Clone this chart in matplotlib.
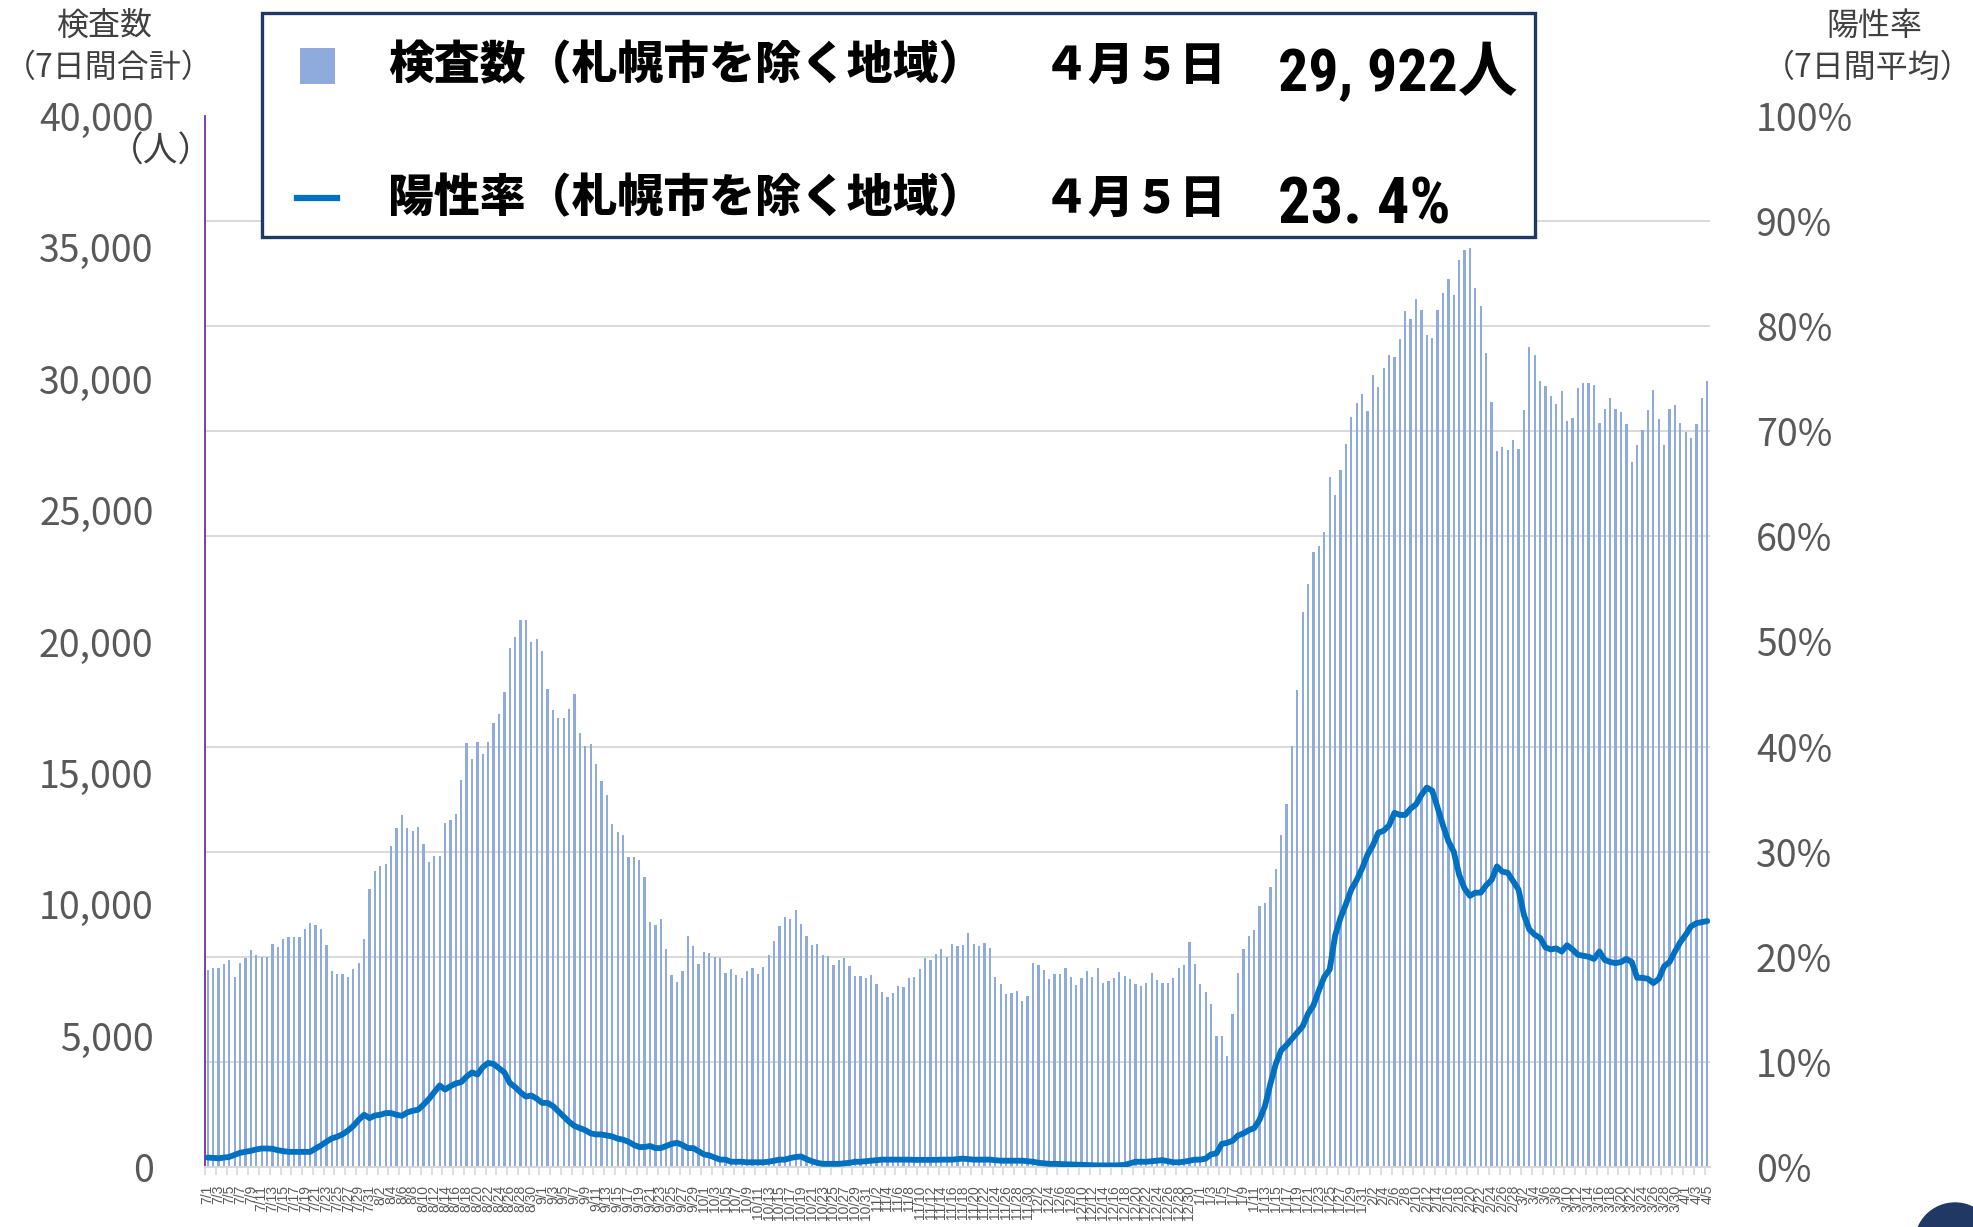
import numpy as np
import pandas as pd
import matplotlib
matplotlib.use('Agg')
from matplotlib import patches, font_manager, pyplot as plt
from matplotlib.ticker import MultipleLocator, FuncFormatter, PercentFormatter

plt.rcParams['font.family'] = ['Noto Sans CJK JP', 'DejaVu Sans']

# 日付 (7/1 - 4/5)
dates = pd.date_range('2021-07-01', '2022-04-05', freq='D')
date_labels = [f'{d.month}/{d.day}' for d in dates]

# 検査数（7日間合計）
tests_jul = [7500, 7590, 7560, 7720, 7870, 7240, 7760, 7940, 8270, 8050,
             8000, 8010, 8500, 8370, 8670, 8770, 8770, 8740, 9060, 9280,
             9200, 9050, 8440, 7470, 7330, 7330, 7230, 7540, 7760, 8670, 10580]
tests_aug = [11280, 11450, 11530, 12200, 12890, 13390, 12900, 12770, 12940, 12280,
             11620, 11820, 11830, 13080, 13210, 13420, 14720, 16120, 15520, 16190,
             15710, 16190, 16890, 17250, 18070, 19740, 20170, 20800, 20800, 20000, 20090]
tests_sep = [19620, 18210, 17410, 17080, 17090, 17440, 18020, 16510, 16030, 16100,
             15350, 14690, 14140, 13050, 12760, 12650, 11780, 11810, 11690, 11050,
             9310, 9210, 9450, 8280, 7300, 7050, 7450, 8790, 8420, 7740]
tests_oct = [8170, 8150, 8000, 7960, 7400, 7530, 7290, 7200, 7450, 7570,
             7340, 7600, 8070, 8590, 9160, 9530, 9440, 9790, 9250, 8780,
             8460, 8500, 8050, 8040, 7680, 7890, 7940, 7660, 7280, 7280, 7200]
tests_nov = [7290, 6950, 6660, 6480, 6620, 6870, 6850, 7190, 7240, 7530,
             7950, 7860, 8090, 8280, 8000, 8470, 8410, 8450, 8890, 8500,
             8420, 8510, 8340, 7240, 6970, 6570, 6640, 6710, 6310, 6500]
tests_dec = [7750, 7680, 7490, 7140, 7330, 7330, 7570, 7230, 6920, 7190,
             7460, 7230, 7580, 7020, 7070, 7190, 7440, 7280, 7150, 6950,
             6880, 7020, 7380, 7110, 6990, 6990, 7180, 7580, 7670, 8550, 7710]
tests_jan = [6950, 6670, 6220, 4990, 4970, 4240, 5830, 7400, 8300, 8800,
             9030, 9940, 10050, 10660, 11360, 12640, 13800, 16010, 18170, 21130,
             22180, 23390, 23640, 24150, 26250, 25570, 26530, 27530, 28530, 29060, 29410]
tests_feb = [28790, 30160, 29690, 30410, 30900, 30810, 31510, 32580, 32280, 33040,
             32620, 31650, 31550, 32600, 33250, 33790, 33180, 34510, 34910, 34980,
             33460, 32760, 30970, 29110, 27250, 27390, 27300, 27670]
tests_mar = [27340, 28810, 31200, 30900, 29930, 29720, 29340, 29020, 29530, 28390,
             28510, 29650, 29830, 29830, 29760, 28300, 28860, 29250, 28860, 28740,
             28270, 26830, 27480, 28040, 28810, 29580, 28480, 27460, 28860, 28990, 28300]
tests_apr = [27970, 27760, 28270, 29250, 29922]

# 陽性率（7日間平均, %）
rate_jul = [0.90, 0.87, 0.83, 0.90, 0.96, 1.15, 1.35, 1.44, 1.54, 1.67,
            1.76, 1.76, 1.73, 1.60, 1.51, 1.44, 1.44, 1.44, 1.44, 1.44,
            1.76, 2.05, 2.40, 2.72, 2.88, 3.11, 3.46, 3.91, 4.49, 4.97, 4.65]
rate_aug = [4.90, 4.97, 5.13, 5.13, 4.97, 4.87, 5.19, 5.35, 5.45, 5.93,
            6.47, 7.12, 7.76, 7.37, 7.69, 7.95, 8.08, 8.6, 9.0, 8.8,
            9.5, 9.9, 9.8, 9.4, 9.0, 8.0, 7.6, 7.1, 6.7, 6.8, 6.5]
rate_sep = [6.1, 6.1, 5.8, 5.3, 4.8, 4.3, 3.9, 3.7, 3.5, 3.2,
            3.1, 3.1, 3.0, 2.9, 2.7, 2.6, 2.4, 2.1, 1.9, 1.9,
            2.0, 1.8, 1.8, 2.0, 2.2, 2.3, 2.1, 1.8, 1.8, 1.5]
rate_oct = [1.2, 1.1, 0.9, 0.7, 0.7, 0.5, 0.5, 0.5, 0.45, 0.45,
            0.45, 0.45, 0.5, 0.6, 0.7, 0.7, 0.85, 0.95, 1.0, 0.75,
            0.55, 0.4, 0.3, 0.3, 0.3, 0.3, 0.35, 0.4, 0.5, 0.5, 0.55]
rate_nov = [0.6, 0.65, 0.7, 0.7, 0.7, 0.7, 0.7, 0.7, 0.68, 0.68,
            0.68, 0.68, 0.68, 0.7, 0.7, 0.7, 0.75, 0.8, 0.75, 0.7,
            0.7, 0.7, 0.7, 0.65, 0.6, 0.6, 0.6, 0.6, 0.6, 0.55]
rate_dec = [0.5, 0.4, 0.35, 0.3, 0.3, 0.28, 0.25, 0.25, 0.22, 0.2,
            0.18, 0.15, 0.15, 0.15, 0.15, 0.15, 0.18, 0.2, 0.35, 0.5,
            0.5, 0.5, 0.55, 0.6, 0.65, 0.55, 0.45, 0.45, 0.5, 0.6, 0.7]
rate_jan = [0.7, 0.8, 1.2, 1.3, 2.2, 2.3, 2.5, 3.0, 3.2, 3.5,
            3.7, 4.5, 5.8, 7.9, 9.8, 11.1, 11.6, 12.2, 12.8, 13.4,
            14.6, 15.4, 16.8, 18.1, 18.8, 22.0, 23.7, 25.0, 26.4, 27.3, 28.4]
rate_feb = [29.7, 30.6, 31.8, 32.0, 32.5, 33.7, 33.5, 33.5, 34.1, 34.5,
            35.4, 36.1, 35.8, 34.2, 32.5, 31.0, 30.0, 27.8, 26.5, 25.8,
            26.1, 26.1, 26.8, 27.3, 28.6, 28.1, 28.0, 27.2]
rate_mar = [26.4, 24.0, 22.6, 22.1, 21.8, 20.9, 20.7, 20.8, 20.5, 21.1,
            20.7, 20.2, 20.1, 20.0, 19.8, 20.5, 19.7, 19.5, 19.4, 19.5,
            19.8, 19.5, 18.0, 18.0, 17.9, 17.5, 17.9, 19.1, 19.5, 20.5, 21.4]
rate_apr = [22.1, 22.9, 23.2, 23.3, 23.4]

tests = (tests_jul + tests_aug + tests_sep + tests_oct + tests_nov + tests_dec
         + tests_jan + tests_feb + tests_mar + tests_apr)
rate = (rate_jul + rate_aug + rate_sep + rate_oct + rate_nov + rate_dec
        + rate_jan + rate_feb + rate_mar + rate_apr)

W, H = 1974, 1227
BAR_COLOR = '#8FAADC'
LINE_COLOR = '#0070C0'
GRID_COLOR = '#D9D9D9'
TICK_COLOR = '#595959'
NAVY = '#1F3864'


def fx(px):
    return px / W


def fy(py):
    return 1 - py / H


def find_narrow_font():
    """Returns (family, stretch) of a condensed font if one is installed"""
    for f in font_manager.fontManager.ttflist:
        if f.name in ('Liberation Sans Narrow', 'Roboto Condensed', 'Open Sans Condensed'):
            return f.name, 'normal'
    for f in font_manager.fontManager.ttflist:
        if f.name in ('DejaVu Sans', 'Noto Sans') and f.stretch == 'condensed':
            return f.name, 'condensed'
    return None, 'normal'


def fit_text(fig, text, width):
    """Shrinks or grows font so the text is given pixels wide"""
    fig.canvas.draw()
    bb = text.get_window_extent()
    text.set_fontsize(text.get_fontsize() * width / bb.width)


narrow_family, narrow_stretch = find_narrow_font()

fig = plt.figure(figsize=(W / 100, H / 100), dpi=100)
ax = fig.add_axes([fx(205), fy(1167), fx(1710) - fx(205), fy(116) - fy(1167)])
ax2 = ax.twinx()

x = np.arange(len(tests))
ax.bar(x, tests, width=0.42, color=BAR_COLOR, zorder=2)
ax2.plot(x, np.array(rate) / 100, color=LINE_COLOR, lw=4.2,
         solid_joinstyle='round', solid_capstyle='round')

ax.set_xlim(-0.5, len(tests) - 0.5)
ax.set_ylim(0, 40000)
ax2.set_ylim(0, 1)

# 左軸
ax.yaxis.set_major_locator(MultipleLocator(5000))
ax.yaxis.set_major_formatter(FuncFormatter(lambda v, p: f'{v:,.0f}'))
ax.yaxis.set_minor_locator(MultipleLocator(4000))
ax.grid(which='minor', axis='y', color=GRID_COLOR, lw=1.4, zorder=0)
ax.set_axisbelow(True)
ax.tick_params(axis='y', which='both', length=0, labelsize=27,
               labelcolor=TICK_COLOR, pad=37)

# 右軸
ax2.yaxis.set_major_locator(MultipleLocator(0.1))
ax2.yaxis.set_major_formatter(PercentFormatter(1.0, decimals=0))
ax2.tick_params(axis='y', length=0, labelsize=27, labelcolor=TICK_COLOR, pad=33)

# 横軸
ax.set_xticks(x[::2])
ax.set_xticklabels(date_labels[::2], rotation=90, family=['Liberation Sans', 'DejaVu Sans'],
                   fontsize=10, color=TICK_COLOR)
ax.set_xticks(np.arange(-0.5, len(tests), 2), minor=True)
ax.tick_params(axis='x', which='major', length=0, pad=13)
ax.tick_params(axis='x', which='minor', length=6, width=1.2, color=GRID_COLOR)

for a in (ax, ax2):
    a.spines['top'].set_visible(False)
    a.spines['right'].set_visible(False)
ax2.spines['left'].set_visible(False)
ax2.spines['bottom'].set_visible(False)
ax.spines['left'].set_color('#7030A0')
ax.spines['left'].set_linewidth(1.3)
ax.spines['bottom'].set_color(GRID_COLOR)
ax.spines['bottom'].set_linewidth(1.4)

# 軸タイトル
title_kw = dict(ha='center', va='center', fontsize=23, color='#404040')
fig.text(fx(104), fy(26), '検査数', **title_kw)
fig.text(fx(109), fy(68), '（7日間合計）', **title_kw)
fig.text(fx(1874), fy(26), '陽性率', **title_kw)
fig.text(fx(1868), fy(68), '（7日間平均）', **title_kw)
fig.text(fx(213), fy(152), '（人）', ha='right', va='center', fontsize=25, color='#404040')

# 凡例ボックス
fig.add_artist(patches.Rectangle((fx(262), fy(237)), fx(1535) - fx(262), fy(13) - fy(237),
                                 transform=fig.transFigure, facecolor='white',
                                 edgecolor=NAVY, lw=2.4, zorder=5))
fig.add_artist(patches.Rectangle((fx(300), fy(84)), fx(335) - fx(300), fy(48) - fy(84),
                                 transform=fig.transFigure, facecolor=BAR_COLOR,
                                 edgecolor='none', zorder=6))
fig.add_artist(plt.Line2D([fx(297), fx(337)], [fy(198), fy(198)], transform=fig.transFigure,
                          color=LINE_COLOR, lw=4.5, zorder=6))

leg_kw = dict(va='center', ha='left', fontsize=33, fontweight='heavy', color='black', zorder=7)
fig.text(fx(388), fy(66), '検査数（札幌市を除く地域）', **leg_kw)
fig.text(fx(388), fy(199), '陽性率（札幌市を除く地域）', **leg_kw)
fig.text(fx(1043), fy(66), '４月５日', **leg_kw)
fig.text(fx(1043), fy(199), '４月５日', **leg_kw)

num_family = [narrow_family, 'Noto Sans CJK JP'] if narrow_family else ['Noto Sans CJK JP']
num_kw = dict(ha='left', va='baseline', fontweight='bold', color='black', zorder=7,
              family=num_family, stretch=narrow_stretch, fontsize=40)
t1 = fig.text(fx(1278), fy(91), f'{tests[-1]:,}'.replace(',', ', ') + '人', **num_kw)
t2 = fig.text(fx(1278), fy(224), f'{rate[-1]:.1f}'.replace('.', '. ') + '%', **num_kw)
fit_text(fig, t1, 239)
fit_text(fig, t2, 172)

# 右下の丸
fig.add_artist(patches.Ellipse((fx(1955), fy(1243)), 80 / W, 80 / H, transform=fig.transFigure,
                               color='#203864', zorder=5))

fig.savefig('out.png', dpi=100)
